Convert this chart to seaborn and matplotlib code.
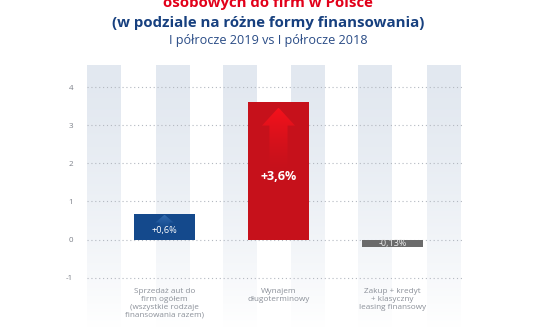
import numpy as np
import pandas as pd
import matplotlib
matplotlib.use("Agg")
import matplotlib.pyplot as plt
import matplotlib.colors as mcolors
from matplotlib.patches import Polygon
import seaborn as sns

categories = [
    "Sprzedaż aut do\nfirm ogółem\n(wszystkie rodzaje\nfinansowania razem)",
    "Wynajem\ndługoterminowy",
    "Zakup + kredyt\n+ klasyczny\nleasing finansowy",
]
values = [0.68, 3.62, -0.2]
value_labels = ["+0,6%", "+3,6%", "-0,13%"]
y_ticks = [-1, 0, 1, 2, 3, 4]
title_lines = [
    "osobowych do firm w Polsce",
    "(w podziale na różne formy finansowania)",
    "I półrocze 2019 vs I półrocze 2018",
]

bar_colors = ["#14498c", "#c6111b", "#6b6b6b"]
arrow_colors = ["#3069ae", "#f5121c", None]

sns.set_theme(style="white")
plt.rcParams["font.family"] = ["Open Sans", "DejaVu Sans"]

W, H = 536, 332
fig = plt.figure(figsize=(W / 100, H / 100), dpi=100)
fig.patch.set_facecolor("white")

# background stripes (decoration, pixel space)
bg = fig.add_axes([0, 0, 1, 1], zorder=0)
bg.set_xlim(0, W)
bg.set_ylim(H, 0)
bg.axis("off")
top_c = np.array(mcolors.to_rgb("#e2e8f0"))
t = np.linspace(0, 1, 256)[:, None, None] ** 1.5
stripe_img = top_c * (1 - t) + np.ones(3) * t
for left in [87, 156, 223, 291, 358, 427]:
    bg.imshow(stripe_img, extent=[left, left + 34, 328, 65], aspect="auto",
              interpolation="bilinear")
bg.set_xlim(0, W)
bg.set_ylim(H, 0)

# main axes
y0_px, ppu = 239.5, 38.1
top_px, bot_px = 65, 285
ax = fig.add_axes([87 / W, 1 - bot_px / H, 375 / W, (bot_px - top_px) / H], zorder=1)
ax.set_facecolor("none")

df = pd.DataFrame({"cat": categories, "val": values})
sns.barplot(data=df, x="cat", y="val", hue="cat", palette=bar_colors,
            width=0.535, saturation=1, legend=False, ax=ax, zorder=2,
            linewidth=0, edgecolor="none")

ylim = ((y0_px - bot_px) / ppu, (y0_px - top_px) / ppu)
xlim = (-0.68, 2.61)

# arrow decorations inside bars
bar_patches = list(ax.patches)
for patch, bcol, acol in zip(bar_patches, bar_colors, arrow_colors):
    if acol is None:
        continue
    x0, w = patch.get_x(), patch.get_width()
    top = patch.get_y() + patch.get_height()
    cx = x0 + w / 2
    big = patch.get_height() > 2
    apex = top - (6 if big else 1) / ppu
    tri_h = (18 if big else 8) / ppu
    half = w * (0.27 if big else 0.15)
    stem_half = half * 0.55
    stem_len = (45 if big else 8) / ppu
    verts = [(cx, apex), (cx + half, apex - tri_h), (cx + stem_half, apex - tri_h),
             (cx + stem_half, apex - tri_h - stem_len), (cx - stem_half, apex - tri_h - stem_len),
             (cx - stem_half, apex - tri_h), (cx - half, apex - tri_h)]
    poly = Polygon(verts, closed=True, transform=ax.transData, facecolor="none",
                   edgecolor="none")
    ax.add_patch(poly)
    cmap = mcolors.LinearSegmentedColormap.from_list("g", [bcol, acol])
    grad = np.linspace(0, 1, 200).reshape(-1, 1) ** 1.4
    im = ax.imshow(grad, extent=[cx - half, cx + half, apex - tri_h - stem_len, apex],
                   origin="lower", cmap=cmap, aspect="auto", zorder=3,
                   interpolation="bilinear")
    im.set_clip_path(poly)

ax.set_xlim(*xlim)
ax.set_ylim(*ylim)

# value labels
label_frac = [0.33, 0.46, 0.5]
label_style = [dict(fontsize=6.6, color="white"),
               dict(fontsize=9, color="white", fontweight="bold"),
               dict(fontsize=6.5, color="#ececec")]
for patch, lab, fr, st in zip(bar_patches, value_labels, label_frac, label_style):
    cx = patch.get_x() + patch.get_width() / 2
    yy = patch.get_y() + patch.get_height() * fr
    ax.text(cx, yy, lab, ha="center", va="center", zorder=4, **st)

ax.set_yticks(y_ticks)
ax.set_yticklabels([str(v) for v in y_ticks])
ax.yaxis.grid(True, linestyle=(0, (1, 2.5)), color="#b3b8c0", linewidth=0.8)
ax.xaxis.grid(False)
ax.set_axisbelow(True)
for sp in ax.spines.values():
    sp.set_visible(False)
ax.tick_params(axis="y", length=0, pad=10, labelsize=5.8, labelcolor="#7c8089")
ax.tick_params(axis="x", length=0, pad=2.5, labelsize=5.9, labelcolor="#8b9099")
for lbl in ax.get_xticklabels():
    lbl.set_linespacing(1.15)
ax.set_xlabel("")
ax.set_ylabel("")

# titles
fig.text(0.5, 1 - 7 / H, title_lines[0], ha="center", va="baseline",
         color="#e2001a", fontsize=10.8, fontweight="bold")
fig.text(0.5, 1 - 27 / H, title_lines[1], ha="center", va="baseline",
         color="#17407f", fontsize=10.8, fontweight="bold")
fig.text(0.5, 1 - 44 / H, title_lines[2], ha="center", va="baseline",
         color="#2a4c86", fontsize=9.1)

fig.savefig("out.png", dpi=100)
